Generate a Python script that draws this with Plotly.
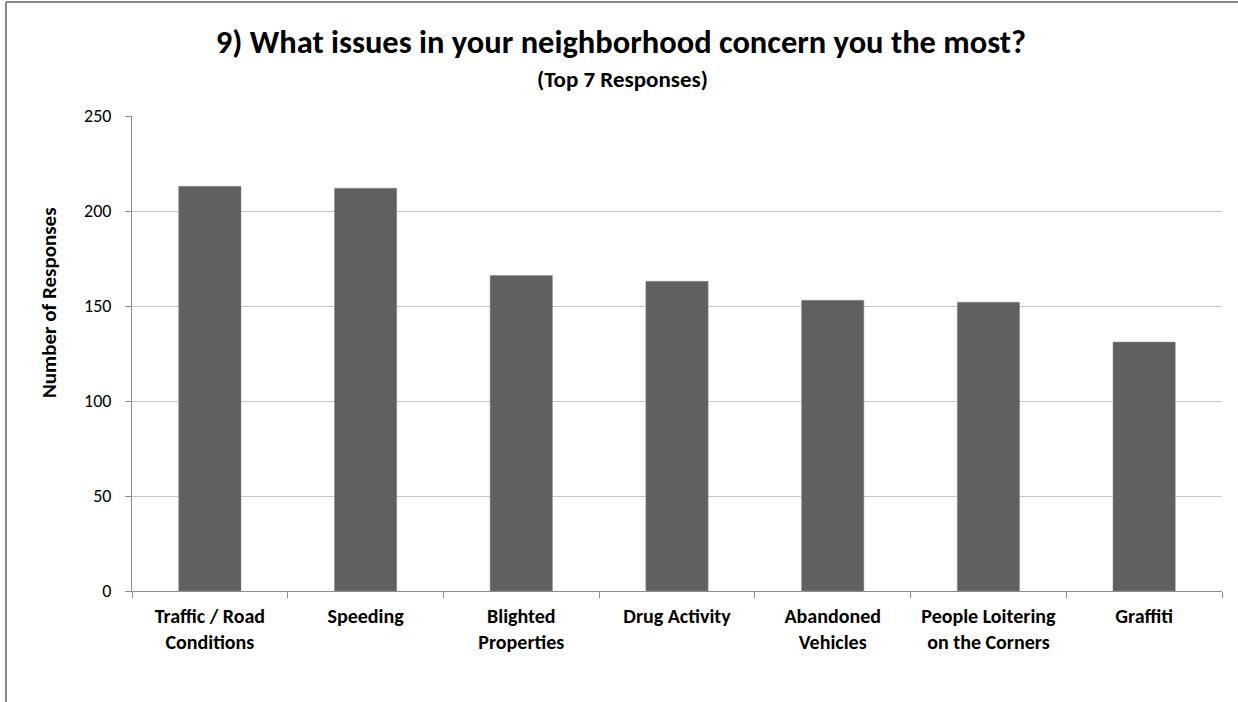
import plotly.graph_objects as go

categories = [
    "Traffic / Road<br>Conditions",
    "Speeding",
    "Blighted<br>Properties",
    "Drug Activity",
    "Abandoned<br>Vehicles",
    "People Loitering<br>on the Corners",
    "Graffiti",
]
responses = [213, 212, 166, 163, 153, 152, 131]
y_ticks = [0, 50, 100, 150, 200, 250]

FONT = "Carlito, Calibri, Lato, 'Open Sans', sans-serif"

W, H = 1238, 702
L, R, T, B = 132, 16, 116, 111
PW, PH = W - L - R, H - T - B


def px_x(px):
    return (px - L) / PW


def px_y(py):
    return (H - B - py) / PH


fig = go.Figure()
fig.add_trace(go.Bar(
    x=categories,
    y=responses,
    marker=dict(color="#606060", line=dict(color="#8a8a8a", width=0.5)),
    width=0.4,
    hoverinfo="x+y",
))

fig.update_layout(
    width=W,
    height=H,
    margin=dict(l=L, r=R, t=T, b=B),
    paper_bgcolor="white",
    plot_bgcolor="white",
    showlegend=False,
    font=dict(family=FONT, color="#000000"),
    title=dict(
        text="<b>9) What issues in your neighborhood concern you the most?</b>",
        x=621 / W, xanchor="center", xref="container",
        y=1 - 42 / H, yanchor="middle", yref="container",
        font=dict(size=32.5, family=FONT, color="#000000"),
    ),
    annotations=[
        dict(
            text="<b>(Top 7 Responses)</b>",
            xref="paper", yref="paper",
            x=px_x(622), y=px_y(79),
            xanchor="center", yanchor="middle",
            showarrow=False,
            font=dict(size=23, family=FONT, color="#000000"),
        ),
        dict(
            text="<b>Number of Responses</b>",
            xref="paper", yref="paper",
            x=px_x(49), y=px_y(303),
            xanchor="center", yanchor="middle",
            textangle=-90,
            showarrow=False,
            font=dict(size=21, family=FONT, color="#000000"),
        ),
    ],
    shapes=[
        dict(type="line", xref="paper", yref="paper",
             x0=px_x(6), x1=px_x(W),
             y0=px_y(2), y1=px_y(2),
             line=dict(color="#888888", width=2)),
        dict(type="line", xref="paper", yref="paper",
             x0=px_x(6), x1=px_x(6),
             y0=px_y(2), y1=px_y(H),
             line=dict(color="#888888", width=2)),
    ],
)

fig.update_xaxes(
    type="category",
    showline=True, linecolor="#8c8c8c", linewidth=1,
    ticks="outside", tickson="boundaries", ticklen=6, tickcolor="#8c8c8c",
    tickfont=dict(size=20, family=FONT, color="#000000", weight="bold"),
    showgrid=False,
    ticklabelstandoff=7,
)
fig.update_yaxes(
    range=[0, 250],
    tickvals=y_ticks,
    showline=True, linecolor="#8c8c8c", linewidth=1,
    ticks="outside", ticklen=6, tickcolor="#8c8c8c",
    tickfont=dict(size=18, family=FONT, color="#000000"),
    showgrid=True, gridcolor="#c6c6c6", gridwidth=1,
    zeroline=False,
    ticklabelstandoff=10,
)

fig.write_html(
    "out.html",
    config={"displayModeBar": False},
    post_script="document.body.style.margin='0';",
)
